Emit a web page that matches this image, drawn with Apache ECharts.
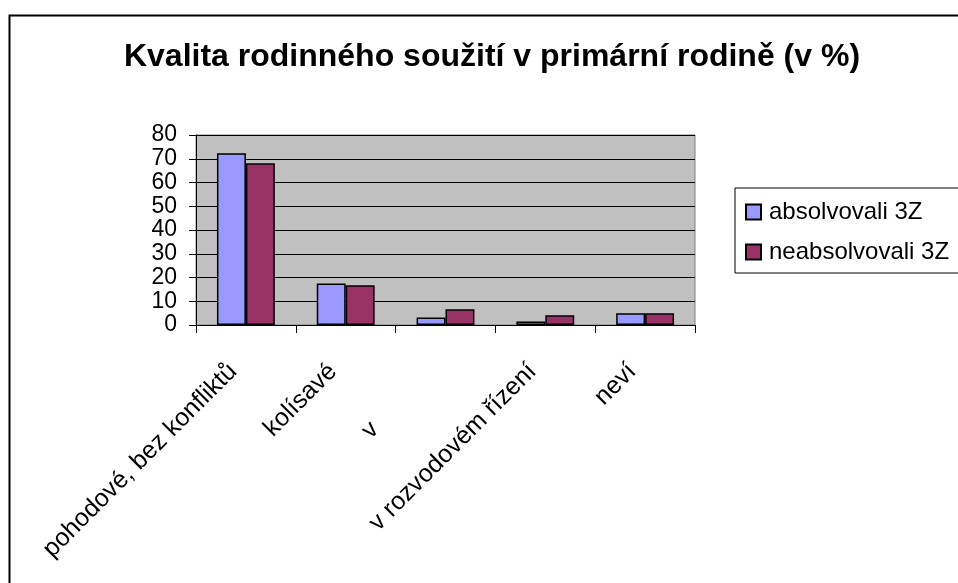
<!DOCTYPE html>
<html>
<head>
<meta charset="utf-8">
<script src="https://cdn.jsdelivr.net/npm/echarts@6/dist/echarts.min.js"></script>
<style>
html,body{margin:0;padding:0;background:#fff;}
#chart{width:958px;height:583px;}
</style>
</head>
<body>
<div id="chart"></div>
<script>
const categories = ["pohodové, bez konfliktů", "kolísavé", "v", "v rozvodovém řízení", "neví"];
const absolvovali = [72.3, 17.5, 3.2, 1.5, 4.9];
const neabsolvovali = [68.1, 16.7, 6.6, 4.1, 4.9];
const seriesNames = ["absolvovali 3Z", "neabsolvovali 3Z"];
const titleText = "Kvalita rodinného soužití v primární rodině (v %)";

const chart = echarts.init(document.getElementById('chart'), null, {renderer: 'canvas'});
const font = "'Liberation Sans', Arial, sans-serif";
chart.setOption({
  animation: false,
  backgroundColor: '#ffffff',
  title: {
    text: titleText,
    left: 487, top: 36, textAlign: 'center',
    textStyle: {fontFamily: font, fontWeight: 'bold', fontSize: 32, color: '#000'}
  },
  graphic: [{
    type: 'rect', left: 7, top: 13, silent: true, z: -1,
    shape: {width: 960, height: 600},
    style: {fill: 'none', stroke: '#000', lineWidth: 2}
  }],
  legend: {
    orient: 'vertical', left: 735, top: 188,
    padding: [12, 60, 9, 10],
    itemGap: 16, itemWidth: 15, itemHeight: 15,
    borderColor: '#000', borderWidth: 1,
    icon: 'rect',
    textStyle: {fontFamily: font, fontSize: 24, color: '#000', padding: [0, 0, 0, 3]},
    data: seriesNames
  },
  grid: {left: 196, top: 135, width: 499, height: 190, show: true, backgroundColor: '#c0c0c0', borderColor: '#808080', borderWidth: 1},
  xAxis: {
    type: 'category', data: categories,
    axisLine: {lineStyle: {color: '#000', width: 1}},
    axisTick: {show: true, alignWithLabel: false, length: 8, lineStyle: {color: '#000'}},
    axisLabel: {
      rotate: 45, interval: 0, margin: 30, fontFamily: font, fontSize: 25, color: '#000',
      formatter: function (v) { return v === 'v' ? '{far|' + v + '}' : '{n|' + v + '}'; },
      rich: {
        n: {fontFamily: font, fontSize: 25, color: '#000', padding: [0, 18, 0, 0]},
        far: {fontFamily: font, fontSize: 25, color: '#000', padding: [0, 100, 0, 0]}
      }
    }
  },
  yAxis: {
    type: 'value', min: 0, max: 80, interval: 10,
    axisLine: {show: true, lineStyle: {color: '#000', width: 1}},
    axisTick: {show: true, length: 7, lineStyle: {color: '#000'}},
    splitLine: {show: true, lineStyle: {color: '#000', width: 1}},
    axisLabel: {margin: 19, fontFamily: font, fontSize: 23, color: '#000'}
  },
  series: [
    {name: seriesNames[0], type: 'bar', data: absolvovali, barGap: '0%', barCategoryGap: '42%',
     itemStyle: {color: '#9999ff', borderColor: '#000', borderWidth: 1.5}},
    {name: seriesNames[1], type: 'bar', data: neabsolvovali, barGap: '0%', barCategoryGap: '42%',
     itemStyle: {color: '#993366', borderColor: '#000', borderWidth: 1.5}}
  ]
});
</script>
</body>
</html>
